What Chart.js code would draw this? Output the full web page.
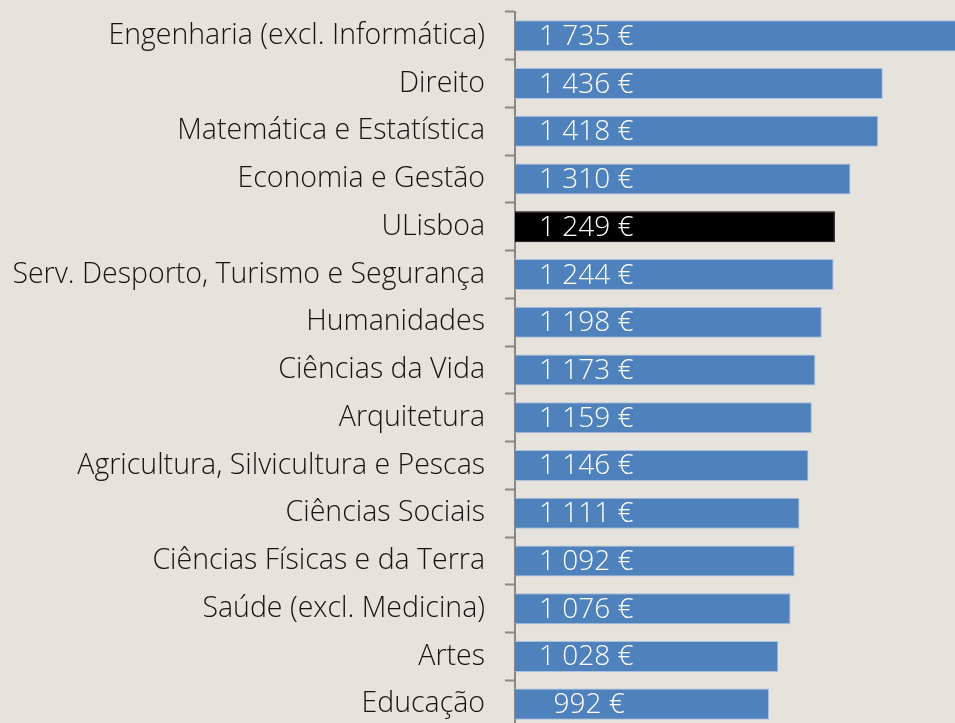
<!DOCTYPE html>
<html>
<head>
<meta charset="utf-8">
<script src="https://cdn.jsdelivr.net/npm/chart.js@4.4.1/dist/chart.umd.min.js"></script>
<style>
    html, body { margin: 0; padding: 0; background: #e6e2dc; overflow: hidden; }
    #wrap { position: relative; width: 955px; height: 728px; }
</style>
</head>
<body>
<div id="wrap"><canvas id="grafico"></canvas></div>
<script>
// Áreas de formação
var areas = [
    'Engenharia (excl. Informática)', 'Direito', 'Matemática e Estatística',
    'Economia e Gestão', 'ULisboa', 'Serv. Desporto, Turismo e Segurança',
    'Humanidades', 'Ciências da Vida', 'Arquitetura',
    'Agricultura, Silvicultura e Pescas', 'Ciências Sociais',
    'Ciências Físicas e da Terra', 'Saúde (excl. Medicina)', 'Artes', 'Educação'
]
// Salário médio (€)
var salario = [1735, 1436, 1418, 1310, 1249, 1244, 1198, 1173, 1159, 1146, 1111, 1092, 1076, 1028, 992]
// Área em destaque
var destaque = 'ULisboa'

// Formato "1 735 €" (com espaço para valores < 1000)
function formatar(v) {
    let mil = Math.floor(v / 1000)
    let resto = String(v % 1000).padStart(mil ? 3 : 1, '0')
    return (mil ? mil : ' ') + ' ' + resto + ' €'
}

var cores = areas.map(a => a === destaque ? '#000000' : '#4f81bd')
var bordas = areas.map(a => a === destaque ? '#000000' : '#a9c1de')

// Rótulos dos valores dentro das barras
var rotulos = {
    id: 'rotulos',
    afterDatasetsDraw(chart) {
        let ctx = chart.ctx
        let meta = chart.getDatasetMeta(0)
        ctx.save()
        ctx.font = '300 28px "Open Sans"'
        ctx.fillStyle = '#ffffff'
        ctx.textAlign = 'left'
        ctx.textBaseline = 'middle'
        meta.data.forEach((bar, i) => {
            ctx.fillText(formatar(salario[i]), chart.chartArea.left + 24, bar.y + 1)
        })
        ctx.restore()
    }
}

var chart = new Chart(document.getElementById('grafico').getContext('2d'), {
    type: 'bar',
    data: {
        labels: areas,
        datasets: [{
            data: salario,
            backgroundColor: cores,
            borderColor: bordas,
            borderWidth: 1,
            categoryPercentage: 1,
            barPercentage: 0.65
        }]
    },
    options: {
        indexAxis: 'y',
        responsive: true,
        maintainAspectRatio: false,
        animation: false,
        layout: { padding: { top: 12, right: 0, bottom: 0, left: 0 } },
        plugins: {
            legend: { display: false },
            tooltip: { enabled: false }
        },
        scales: {
            x: {
                display: false,
                min: 0,
                max: 1718
            },
            y: {
                afterFit(scale) {
                    scale.width = 515
                    scale.paddingTop = 0
                    scale.paddingBottom = 0
                },
                border: { display: true, color: '#888888', width: 2 },
                grid: {
                    offset: true,
                    drawOnChartArea: false,
                    drawTicks: true,
                    tickLength: 10,
                    tickWidth: 2,
                    color: '#888888'
                },
                ticks: {
                    padding: 20,
                    color: '#141414',
                    font: { family: '"Open Sans"', size: 28.5, weight: 300 }
                }
            }
        }
    },
    plugins: [rotulos]
});
</script>
</body>
</html>
